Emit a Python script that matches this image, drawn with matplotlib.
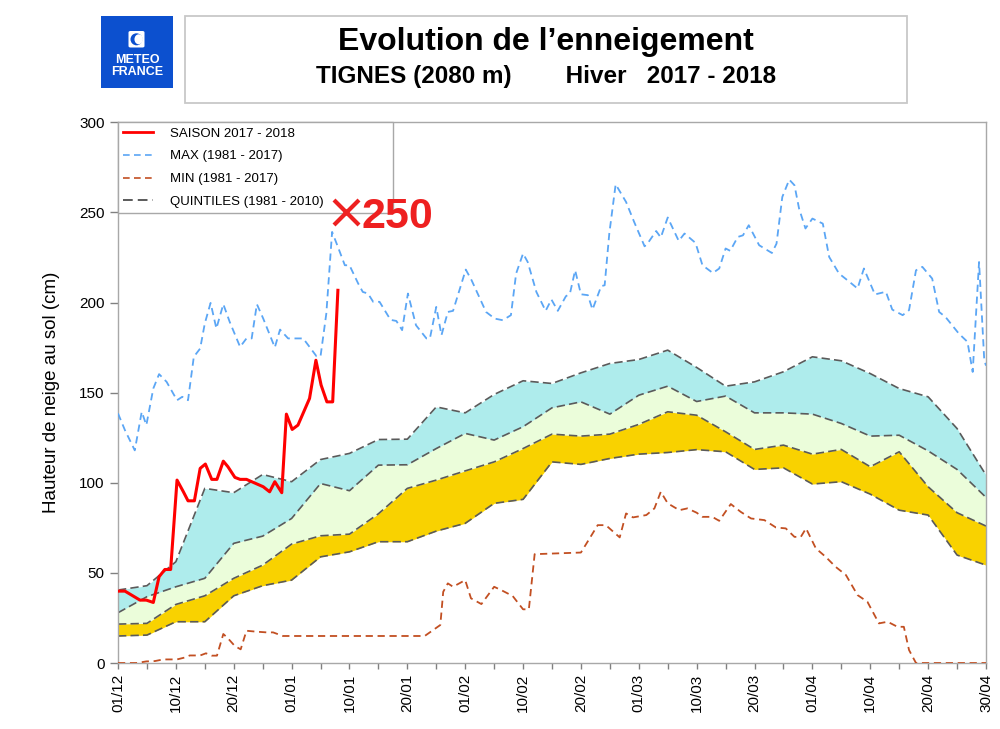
import matplotlib
matplotlib.use("Agg")
import matplotlib.pyplot as plt
from matplotlib.patches import Rectangle, Ellipse, FancyBboxPatch
from matplotlib.lines import Line2D

plt.rcParams['font.family'] = ['Liberation Sans', 'DejaVu Sans']

# ---------------- data ----------------
tick_labels = ['01/12', '10/12', '20/12', '01/01', '10/01', '20/01', '01/02', '10/02',
               '20/02', '01/03', '10/03', '20/03', '01/04', '10/04', '20/04', '30/04']

# quintiles (every 5 days)
q_days = list(range(0, 151, 5))
q4 = [40.5, 42.9, 56.2, 96.9, 94.5, 104.6, 100.6, 112.9, 116.3, 124.0, 124.2, 142.1, 138.8,
      149.0, 156.6, 155.1, 161.0, 166.2, 168.4, 173.6, 164.0, 153.6, 156.0, 161.6, 169.9,
      167.7, 160.6, 152.3, 147.7, 130.1, 104.3]
q3 = [27.9, 36.8, 42.3, 47.0, 66.4, 70.4, 80.2, 99.6, 95.6, 109.8, 110.0, 119.0, 127.4,
      123.7, 131.1, 141.6, 144.9, 138.1, 148.6, 153.6, 145.1, 148.1, 138.8, 138.8, 138.1,
      132.9, 125.9, 126.4, 117.7, 107.4, 91.9]
q2 = [21.6, 22.0, 32.5, 37.3, 47.0, 54.3, 66.0, 70.6, 71.5, 82.8, 96.9, 101.5, 106.6,
      111.6, 119.0, 127.0, 125.9, 127.0, 132.4, 139.4, 137.5, 128.3, 118.5, 120.9, 115.9,
      118.5, 108.9, 117.2, 97.8, 83.4, 76.0]
q1 = [15.0, 15.5, 22.9, 22.9, 37.3, 42.9, 46.0, 58.9, 61.7, 67.3, 67.3, 73.2, 77.5, 88.6,
      90.8, 111.6, 110.2, 113.5, 115.9, 116.8, 118.4, 117.2, 107.4, 108.3, 99.3, 100.6,
      93.7, 84.8, 82.1, 59.9, 54.3]

# MAX (1981-2017)
max_days = [0, 1.2, 2.9, 4.1, 4.9, 6.1, 7.1, 8.4, 10.2, 11.1, 12.1, 13.1, 14.2, 15, 16, 17,
            18.2, 19.3, 21.1, 22.2, 23.1, 24, 25.1, 27.1, 28, 29.4, 32, 33.1, 34.3, 35, 36,
            37, 38, 39.2, 40, 41.5, 42.3, 43.2, 44.1, 45.2, 47.1, 48.1, 49.1, 50.1, 51.5,
            53.3, 53.9, 55, 55.9, 57, 57.9, 60.1, 61.1, 63.6, 65.1, 66.5, 67.9, 68.8, 70,
            70.8, 72.3, 73.9, 74.9, 76, 77.4, 78.1, 79, 80, 81.2, 82, 83.5, 84.1, 84.9, 86,
            87.8, 89.2, 91, 91.5, 93, 93.8, 95, 96.9, 97.9, 99.8, 101, 102.8, 103.9, 105,
            105.8, 107.1, 108, 109, 110.8, 113, 113.8, 114.8, 116, 116.9, 117.7, 118.8, 120,
            121.8, 122.9, 124.6, 126.4, 127.8, 128.9, 130.8, 132.7, 133.8, 135.6, 136.7,
            137.9, 139, 140.7, 141.9, 143, 145.3, 146.8, 147.7, 148.8, 149.7, 150]
max_vals = [138.5, 129.2, 118.0, 139.4, 132.0, 152.3, 160.3, 156.0, 145.8, 147.7, 145.8,
            169.9, 174.5, 188.4, 199.8, 185.6, 199.1, 189.3, 175.4, 180.1, 180.1, 199.1,
            191.1, 175.1, 185.0, 180.1, 180.1, 175.4, 170.2, 170.2, 193.9, 239.2, 230.9,
            220.7, 220.7, 210.6, 205.9, 205.0, 200.4, 200.4, 190.4, 189.8, 184.7, 205.0,
            187.4, 180.1, 180.1, 197.6, 181.9, 194.8, 195.4, 218.3, 212.4, 194.8, 191.1,
            190.2, 193.0, 216.1, 227.2, 222.5, 205.9, 195.4, 201.7, 195.4, 203.5, 205.0,
            217.9, 204.6, 204.1, 196.1, 209.1, 209.6, 238.3, 265.6, 255.8, 244.7, 231.2,
            232.7, 239.7, 236.1, 247.2, 234.2, 238.3, 233.1, 220.7, 216.4, 218.9, 230.0,
            228.7, 236.4, 237.3, 242.9, 231.8, 227.5, 232.7, 258.6, 268.2, 265.1, 252.1,
            241.1, 246.6, 243.8, 225.3, 216.1, 211.5, 207.8, 218.9, 204.5, 206.0, 196.1,
            193.0, 195.8, 217.9, 219.8, 213.3, 194.8, 192.0, 182.8, 178.2, 161.5, 222.5,
            168.0, 165.0]

# MIN (1981-2017)
min_days = [0, 3.2, 4.9, 6.4, 7.8, 10.2, 11.6, 12.4, 14.2, 15.2, 16.2, 17.1, 18.2, 19, 20.2,
            21.2, 22.2, 23.9, 25.7, 26.8, 28.5, 53, 55.7, 56.2, 57, 57.9, 60, 61, 62.8, 65,
            66.2, 68.2, 70, 71, 72, 80, 82.9, 84.3, 86.7, 87.8, 89, 91.3, 92.7, 93.8, 95, 97,
            98.4, 100, 101, 102.7, 103.9, 105.9, 107.6, 109.4, 111.7, 113.7, 115.4, 116.9,
            118, 118.9, 120.6, 122.3, 124, 125.8, 127.8, 129.5, 131.5, 133, 134.7, 135.8,
            136.7, 137.9, 150]
min_vals = [0, 0, 0.9, 1.1, 2.0, 2.0, 3.1, 4.2, 4.2, 5.4, 4.1, 4.1, 16.1, 13.7, 9.4, 7.6,
            17.9, 17.4, 17.0, 17.0, 15.0, 15.0, 21.1, 39.5, 44.2, 42.3, 46.0, 35.9, 32.7,
            42.3, 40.5, 37.2, 29.8, 29.8, 60.4, 61.3, 76.5, 76.5, 69.7, 83.0, 80.8, 82.1,
            85.8, 95.0, 88.6, 84.8, 85.8, 83.4, 81.1, 81.1, 78.9, 88.2, 83.9, 80.2, 79.3,
            75.2, 74.7, 70.0, 70.0, 74.7, 63.6, 58.9, 53.4, 48.8, 37.7, 34.0, 22.0, 22.9,
            20.1, 20.1, 7.2, 0, 0]

# SAISON 2017 - 2018
season_days = [0, 1.2, 3.8, 4.9, 6.1, 7.1, 8.1, 9.1, 10.2, 11.3, 12.1, 13.2, 14.2, 15.1,
               16.2, 17.1, 18.2, 19, 20.2, 21.1, 22.2, 23.4, 25.1, 26.2, 27.1, 28.3, 29.1,
               30.1, 31.1, 33.1, 34.2, 35.1, 36.1, 37.1, 38]
season_vals = [39.9, 39.9, 34.9, 34.9, 33.6, 47.9, 51.9, 51.9, 101.5, 95.0, 90.0, 90.0,
               108.0, 110.4, 101.9, 101.9, 112.0, 108.9, 103.0, 101.9, 101.9, 100.2, 97.8,
               95.0, 100.6, 94.5, 138.1, 129.6, 132.0, 146.8, 168.0, 154.2, 144.9, 144.9,
               206.8]

last_day = 39.4
last_value = 250

# ---------------- styles ----------------
C_CYAN = '#aeecec'
C_GREEN = '#ebfdda'
C_GOLD = '#f9d200'
C_QLINE = '#5a5a5a'
C_MAX = '#5ba6f5'
C_MIN = '#c24f22'
C_RED = '#ff0000'
C_AXIS = '#a8a8a8'

fig = plt.figure(figsize=(10, 7.29), dpi=100)
ax = fig.add_axes([0.118, 0.0905, 0.868, 0.7417])

ax.fill_between(q_days, q3, q4, color=C_CYAN, lw=0, zorder=1)
ax.fill_between(q_days, q2, q3, color=C_GREEN, lw=0, zorder=1)
ax.fill_between(q_days, q1, q2, color=C_GOLD, lw=0, zorder=1)
for q in (q1, q2, q3, q4):
    ax.plot(q_days, q, color=C_QLINE, lw=1.2, dashes=(5, 2.5), zorder=2)

ax.plot(min_days, min_vals, color=C_MIN, lw=1.3, dashes=(4, 2.6), zorder=3)
ax.plot(max_days, max_vals, color=C_MAX, lw=1.3, dashes=(4, 2.6), zorder=3)
ax.plot(season_days, season_vals, color=C_RED, lw=2.2, zorder=4)

ax.plot([last_day], [last_value], marker='x', ms=18, mew=3.0, color='#ee2020', zorder=8)
ax.text(last_day + 2.7, last_value - 8.8, str(last_value), color='#ee2020', fontsize=31,
        fontweight='bold', ha='left', va='baseline', zorder=8)

ax.set_xlim(0, 150)
ax.set_ylim(0, 300)
ax.set_xticks(list(range(0, 151, 5)))
xl = []
for i, t in enumerate(range(0, 151, 5)):
    xl.append(tick_labels[i // 2] if i % 2 == 0 else '')
ax.set_xticklabels(xl, rotation=90, fontsize=11)
ax.set_yticks(list(range(0, 301, 50)))
ax.tick_params(axis='x', direction='out', length=4.5, width=1, color='#808080', pad=3)
ax.tick_params(axis='y', direction='out', length=5.5, width=1, color='#808080', pad=4,
               labelsize=11)
for s in ax.spines.values():
    s.set_color(C_AXIS)
    s.set_linewidth(1)

ax.set_ylabel('Hauteur de neige au sol (cm)', fontsize=13.5)
ax.yaxis.set_label_coords(-0.067, 0.5)

handles = [
    Line2D([], [], color=C_RED, lw=2),
    Line2D([], [], color=C_MAX, lw=1.2, dashes=(4, 2.6)),
    Line2D([], [], color=C_MIN, lw=1.2, dashes=(4, 2.6)),
    Line2D([], [], color=C_QLINE, lw=1.4, dashes=(5, 2.6)),
]
labels = ['SAISON 2017 - 2018', 'MAX (1981 - 2017)', 'MIN (1981 - 2017)',
          'QUINTILES (1981 - 2010)']
leg = ax.legend(handles, labels, loc='upper left', bbox_to_anchor=(0, 0, 0.317, 1),
                mode='expand', borderaxespad=0, fancybox=False, fontsize=9.5,
                handlelength=2.3, handletextpad=1.25, labelspacing=0.8,
                borderpad=0.38, framealpha=1)
leg.get_frame().set_edgecolor(C_AXIS)
leg.get_frame().set_linewidth(1)
leg.set_zorder(6)

# ---------------- header ----------------
W, H = 1000.0, 729.0
def fx(px):
    return px / W
def fy(py):
    return 1 - py / H

fig.patches.append(Rectangle((fx(185), fy(103)), 722 / W, 87 / H, transform=fig.transFigure,
                             facecolor='white', edgecolor='#c8c8c8', lw=1.3))
fig.text(fx(546), fy(42), 'Evolution de l\u2019enneigement', ha='center', va='center',
         fontsize=23, fontweight='bold',
         family=['Liberation Sans Narrow', 'Liberation Sans', 'DejaVu Sans'])
fig.text(fx(546), fy(77), 'TIGNES (2080 m)        Hiver   2017 - 2018', ha='center',
         va='center', fontsize=17.5, fontweight='bold',
         family=['Liberation Sans Narrow', 'Liberation Sans', 'DejaVu Sans'])

# logo
fig.patches.append(Rectangle((fx(101), fy(88)), 72 / W, 72 / H, transform=fig.transFigure,
                             facecolor='#0c50cf', edgecolor='none'))
fig.patches.append(FancyBboxPatch((fx(128.5), fy(47.5)), 16 / W, 16.5 / H,
                                  boxstyle='round,pad=0,rounding_size=0.002',
                                  transform=fig.transFigure, facecolor='white',
                                  edgecolor='none'))
fig.patches.append(Ellipse((fx(136.5), fy(39.3)), 12 / W, 12 / H, transform=fig.transFigure,
                           facecolor='#0c50cf', edgecolor='none'))
fig.patches.append(Ellipse((fx(138.7), fy(39.3)), 8.5 / W, 10 / H, transform=fig.transFigure,
                           facecolor='white', edgecolor='none'))
fig.text(fx(137.5), fy(60), 'METEO', ha='center', va='center', fontsize=9,
         fontweight='bold', color='white')
fig.text(fx(137.5), fy(72), 'FRANCE', ha='center', va='center', fontsize=9,
         fontweight='bold', color='white')

fig.savefig('out.png', dpi=100)
